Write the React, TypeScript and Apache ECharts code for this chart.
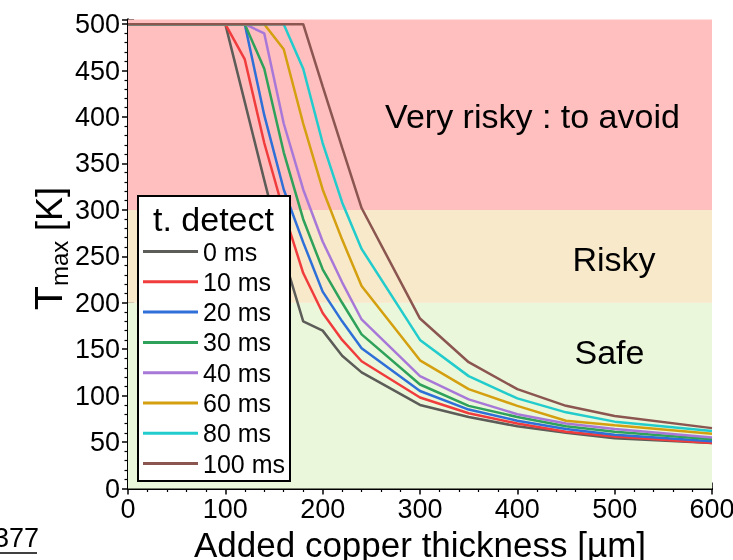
import React, { useEffect, useRef } from 'react';
import * as echarts from 'echarts';

// x positions (added copper thickness, µm)
const thickness = [0, 100, 120, 140, 160, 180, 200, 220, 240, 300, 350, 400, 450, 500, 600];

// Tmax [K] for each detection time
const t0 = [500, 500, 416, 332, 250, 180, 170, 143, 125, 90, 77, 67, 60, 54, 49];
const t10 = [500, 500, 462, 372, 298, 232, 189, 160, 137, 98, 81, 70, 61, 56, 49];
const t20 = [500, 500, 500, 402, 322, 265, 212, 180, 151, 105, 85, 73, 64, 58, 51];
const t30 = [500, 500, 500, 452, 362, 290, 236, 200, 166, 112, 89, 77, 67, 61, 53];
const t40 = [500, 500, 500, 490, 393, 322, 266, 222, 182, 121, 96, 80, 70, 64, 55];
const t60 = [500, 500, 500, 500, 473, 393, 322, 268, 218, 138, 107, 89, 73, 68, 59];
const t80 = [500, 500, 500, 500, 500, 452, 372, 308, 258, 160, 121, 97, 82, 72, 62];
const t100 = [500, 500, 500, 500, 500, 500, 433, 367, 302, 183, 136, 107, 89, 78, 65];

const seriesNames = ['0 ms', '10 ms', '20 ms', '30 ms', '40 ms', '60 ms', '80 ms', '100 ms'];
const seriesValues = [t0, t10, t20, t30, t40, t60, t80, t100];
const seriesColors = ['#5c5c58', '#f03c3c', '#2e6fd8', '#2ea15a', '#a878d8', '#d4a010', '#22cccc', '#8b5550'];

// risk zones
const zoneBounds = [0, 200, 300, 505];
const zoneColors = ['#ebf7da', '#f8e9ca', '#ffbfbf'];
const zoneLabels = ['Safe', 'Risky', 'Very risky : to avoid'];

const xMin = 0;
const xMax = 600;
const xInterval = 100;
const yMin = 0;
const yMax = 505;
const yInterval = 50;

const FONT = '"Liberation Sans", Arial, sans-serif';

export default function App() {
  const ref = useRef<HTMLDivElement>(null);
  useEffect(() => {
    const chart = echarts.init(ref.current!, null, { renderer: 'svg', width: 733, height: 560 });

    const axisLine = { show: true, lineStyle: { color: '#000', width: 2 } };
    const tick = { show: true, inside: true, length: 6, lineStyle: { color: '#000', width: 1.5 } };
    const minor = { show: true, splitNumber: 5, length: 3.5, lineStyle: { color: '#000', width: 1.2 } };
    const labelStyle = { color: '#000', fontSize: 27, fontFamily: FONT };

    const series: any[] = seriesNames.map((name, i) => ({
      name,
      type: 'line',
      data: thickness.map((x, j) => [x, seriesValues[i][j]]),
      showSymbol: false,
      symbol: 'none',
      lineStyle: { color: seriesColors[i], width: 2.5 },
      itemStyle: { color: seriesColors[i] },
      z: 3 + i * 0.01,
      ...(i === 0
        ? {
            markArea: {
              silent: true,
              z: 1,
              label: { show: false },
              data: zoneColors.map((c, k) => [
                { yAxis: zoneBounds[k], itemStyle: { color: c, opacity: 1 } },
                { yAxis: zoneBounds[k + 1] },
              ]),
            },
          }
        : {}),
    }));

    const option: any = {
      animation: false,
      grid: { left: 128, right: 21, top: 19.5, bottom: 71.5, containLabel: false, outerBoundsMode: 'none' },
      xAxis: [
        {
          type: 'value',
          min: xMin,
          max: xMax,
          interval: xInterval,
          position: 'bottom',
          axisLine,
          axisTick: tick,
          minorTick: minor,
          splitLine: { show: false },
          axisLabel: { ...labelStyle, margin: 7 },
          name: 'Added copper thickness [µm]',
          nameLocation: 'middle',
          nameGap: 35,
          nameTextStyle: { color: '#000', fontSize: 35, fontFamily: FONT },
        },
        {
          type: 'value',
          min: xMin,
          max: xMax,
          interval: xInterval,
          position: 'top',
          axisLine,
          axisTick: tick,
          minorTick: minor,
          splitLine: { show: false },
          axisLabel: { show: false },
        },
      ],
      yAxis: [
        {
          type: 'value',
          min: yMin,
          max: yMax,
          interval: yInterval,
          position: 'left',
          axisLine,
          axisTick: tick,
          minorTick: minor,
          splitLine: { show: false },
          axisLabel: {
            ...labelStyle,
            margin: 8,
            formatter: (v: number) => (v % yInterval === 0 ? String(v) : ''),
          },
        },
        {
          type: 'value',
          min: yMin,
          max: yMax,
          interval: yInterval,
          position: 'right',
          axisLine,
          axisTick: tick,
          minorTick: minor,
          splitLine: { show: false },
          axisLabel: { show: false },
        },
      ],
      legend: {
        data: seriesNames,
        orient: 'vertical',
        left: 143,
        top: 239,
        padding: 0,
        itemGap: 5.3,
        itemWidth: 55,
        itemHeight: 3,
        icon: 'rect',
        z: 20,
        textStyle: { color: '#000', fontSize: 25, fontFamily: FONT, lineHeight: 24 },
      },
      graphic: [
        {
          type: 'rect',
          z: 15,
          shape: { x: 138, y: 196, width: 152, height: 285 },
          style: { fill: '#fff', stroke: '#000', lineWidth: 2 },
        },
        {
          type: 'text',
          z: 21,
          x: 213.5,
          y: 218.6,
          style: { text: 't. detect', font: `34px ${FONT}`, fill: '#000', align: 'center', verticalAlign: 'middle' },
        },
        {
          type: 'text',
          z: 5,
          x: 532.5,
          y: 115.5,
          style: { text: zoneLabels[2], font: `34px ${FONT}`, fill: '#000', align: 'center', verticalAlign: 'middle' },
        },
        {
          type: 'text',
          z: 5,
          x: 614,
          y: 259,
          style: { text: zoneLabels[1], font: `34px ${FONT}`, fill: '#000', align: 'center', verticalAlign: 'middle' },
        },
        {
          type: 'text',
          z: 5,
          x: 609.5,
          y: 351.5,
          style: { text: zoneLabels[0], font: `34px ${FONT}`, fill: '#000', align: 'center', verticalAlign: 'middle' },
        },
        {
          type: 'group',
          x: 62,
          y: 310,
          rotation: Math.PI / 2,
          children: [
            {
              type: 'text',
              x: 0,
              y: -13.5,
              style: { text: 'T', font: `39px ${FONT}`, fill: '#000', align: 'left', verticalAlign: 'middle' },
            },
            {
              type: 'text',
              x: 24,
              y: -2.3,
              style: { text: 'max', font: `24px ${FONT}`, fill: '#000', align: 'left', verticalAlign: 'middle' },
            },
            {
              type: 'text',
              x: 79,
              y: -12.5,
              style: { text: '[K]', font: `36px ${FONT}`, fill: '#000', align: 'left', verticalAlign: 'middle' },
            },
          ],
        },
        {
          type: 'text',
          x: -6,
          y: 538,
          style: { text: '377', font: `27px ${FONT}`, fill: '#000', align: 'left', verticalAlign: 'middle' },
        },
        {
          type: 'line',
          shape: { x1: 0, y1: 553, x2: 37, y2: 553 },
          style: { stroke: '#000', lineWidth: 1.5 },
        },
      ],
      series,
    };

    chart.setOption(option);
    return () => chart.dispose();
  }, []);

  return <div ref={ref} style={{ position: 'fixed', left: 0, top: 0, width: 733, height: 560 }} />;
}
